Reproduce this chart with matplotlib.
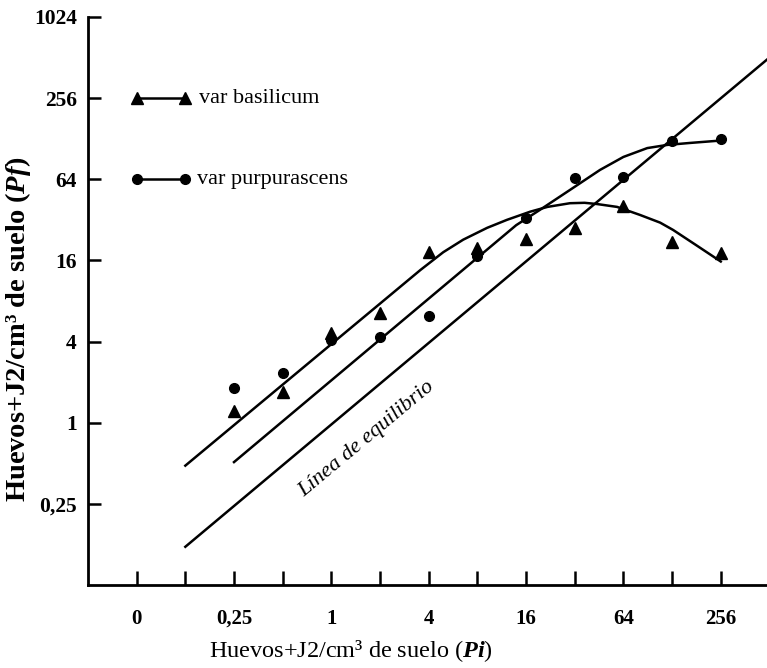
#!/usr/bin/env python3
"""Pf vs Pi for two basil varieties, log2 axes with equilibrium line."""

import matplotlib

matplotlib.use("Agg")
import matplotlib.pyplot as plt
from matplotlib import ticker

plt.rcParams["font.family"] = ["Liberation Serif", "DejaVu Serif"]
plt.rcParams["mathtext.fontset"] = "custom"
plt.rcParams["mathtext.rm"] = "Liberation Serif"
plt.rcParams["mathtext.it"] = "Liberation Serif:italic"
plt.rcParams["mathtext.bf"] = "Liberation Serif:bold"
plt.rcParams["mathtext.bfit"] = "Liberation Serif:bold:italic"

# observed points (eggs+J2 per cm3 soil)
pi_obs = [0.25, 0.5, 1, 2, 4, 8, 16, 32, 64, 128, 256]
pf_basilicum = [1.23, 1.70, 4.65, 6.5, 18.5, 19.8, 23.1, 27.9, 40.6, 22.0, 18.2]
pf_purpurascens = [1.82, 2.35, 4.1, 4.34, 6.2, 17.3, 33.0, 65.5, 66.6, 123, 128]

# fitted curves
fit_b_x = [0.125, 3.56, 4.92, 6.54, 9.19, 12.2, 17.0, 21.7, 29.9, 36.8, 44.0,
           58.5, 81, 108, 130, 181, 256]
fit_b_y = [0.48, 13.6, 18.4, 22.8, 27.9, 32.0, 36.8, 39.9, 42.5, 42.8, 41.9,
           39.9, 34.8, 30.5, 26.9, 20.7, 15.7]
fit_p_x = [0.25, 13.9, 19.6, 31.3, 45.9, 64, 89.9, 119, 165, 256]
fit_p_y = [0.51, 29.2, 38.1, 55.3, 75.1, 93.7, 109, 115, 119, 124]

# equilibrium line Pf = Pi
eq_x = [0.125, 512]
eq_y = [0.12, 512]

x_ticks = [1 / 16, 0.25, 1, 4, 16, 64, 256]
x_labels = ["0", "0,25", "1", "4", "16", "64", "256"]
x_minor = [1 / 8, 0.5, 2, 8, 32, 128]
y_ticks = [0.25, 1, 4, 16, 64, 256, 1024]
y_labels = ["0,25", "1", "4", "16", "64", "256", "1024"]

fig = plt.figure(figsize=(7.67, 6.68), dpi=100)
ax = fig.add_axes([0.1147, 0.1243, 0.8853, 0.8503])

lw = 1.8
ax.plot(eq_x, eq_y, color="black", lw=lw)
ax.plot(fit_b_x, fit_b_y, color="black", lw=lw, solid_joinstyle="round")
ax.plot(fit_p_x, fit_p_y, color="black", lw=lw, solid_joinstyle="round")
ax.plot(pi_obs, pf_basilicum, ls="none", marker="^", ms=8.5, color="black")
ax.plot(pi_obs, pf_purpurascens, ls="none", marker="o", ms=7, color="black")

# hand-drawn legend in the upper left
ax.plot([1 / 16, 1 / 8], [256, 256], color="black", lw=lw, marker="^", ms=8.5)
ax.plot([1 / 16, 1 / 8], [64, 64], color="black", lw=lw, marker="o", ms=7)
ax.text(0.152, 256, "var basilicum", fontsize=16, va="center", ha="left")
ax.text(0.148, 64, "var purpurascens", fontsize=16, va="center", ha="left")

ax.text(1.65, 0.76, "Línea de equilibrio", fontsize=16, style="italic",
        rotation=39.8, rotation_mode="anchor", ha="center", va="center")

ax.set_xscale("log", base=2)
ax.set_yscale("log", base=2)
ax.set_xlim(2 ** -5, 2 ** 8.95)
ax.set_ylim(1 / 16, 1024)

ax.set_xticks(x_ticks)
ax.set_xticklabels(x_labels, fontsize=15, fontweight="bold")
ax.set_xticks(x_minor, minor=True)
ax.xaxis.set_minor_formatter(ticker.NullFormatter())
ax.set_yticks(y_ticks)
ax.set_yticklabels(y_labels, fontsize=15.5, fontweight="bold")
ax.yaxis.set_minor_locator(ticker.NullLocator())
ax.tick_params(axis="x", which="both", direction="in", length=10, width=1.8, pad=17)
ax.tick_params(axis="y", which="both", direction="in", length=9, width=1.8, pad=8)

for side in ("top", "right"):
    ax.spines[side].set_visible(False)
for side in ("left", "bottom"):
    ax.spines[side].set_linewidth(2)

fig.text(0.4576, 0.016, "Huevos+J2/cm³ de suelo ($\\mathbfit{Pi}$)",
         fontsize=17.5, ha="center", va="baseline")
fig.text(0.023, 0.507, "Huevos+J2/cm³ de suelo ($\\mathbfit{Pf}$)",
         fontsize=20.5, fontweight="bold", rotation=90, ha="center", va="center")

fig.savefig("out.png", dpi=100)
